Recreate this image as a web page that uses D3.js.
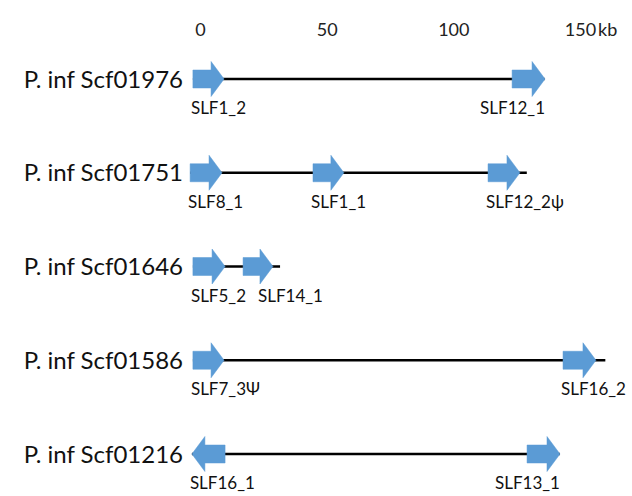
<!DOCTYPE html>
<html>
<head>
<meta charset="utf-8">
<script src="https://cdn.jsdelivr.net/npm/d3@7"></script>
<style>
  body { margin: 0; background: #fff; }
  svg { display: block; font-family: Lato, "Open Sans", sans-serif; }
</style>
</head>
<body>
<div id="chart"></div>
<script>
// Scaffolds with SLF genes, positions in kb.

const width = 632;
const height = 496;

const scaffolds = ["P. inf Scf01976", "P. inf Scf01751", "P. inf Scf01646", "P. inf Scf01586", "P. inf Scf01216"];
const scaffoldStart = [-2.8, -3.9, -2.8, -2.8, -3.2];
const scaffoldEnd = [136, 129, 31.6, 160, 142];

const geneScaffold = [0, 0, 1, 1, 1, 2, 2, 3, 3, 4, 4];
const geneNames = ["SLF1_2", "SLF12_1", "SLF8_1", "SLF1_1", "SLF12_2ψ", "SLF5_2", "SLF14_1", "SLF7_3Ψ", "SLF16_2", "SLF16_1", "SLF13_1"];
const geneStart = [-2.8, 123.2, -3.9, 44.6, 113.7, -2.8, 17, -2.8, 143.3, -3.2, 129.1];
const geneEnd = [9.5, 136.2, 8.7, 56.8, 126.3, 9.9, 28.8, 9.5, 156.3, 9.9, 142.1];
const geneStrand = [1, 1, 1, 1, 1, 1, 1, 1, 1, -1, 1];
// where the name sits under its arrow: from the left end, the middle, or up to the right end
const labelAlign = ["start", "end", "start", "start", "start", "start", "mid", "start", "start", "start", "end"];

const tickValues = [0, 50, 100, 150];

const x = d3.scaleLinear().domain([0, 150]).range([200, 580]);
const y = d3.scalePoint().domain(scaffolds).range([79, 454]);

const svg = d3.select("#chart")
    .append("svg")
    .attr("width", width)
    .attr("height", height);

// scale bar labels on top, no axis line
const axis = svg.append("g")
    .attr("transform", "translate(0,36)")
    .call(d3.axisTop(x).tickValues(tickValues).tickSize(0).tickPadding(0));
axis.select(".domain").remove();
axis.selectAll("text")
    .attr("font-family", "Lato, sans-serif")
    .attr("font-size", 18)
    .attr("fill", "#222");
svg.append("text")
    .attr("x", x(150) + 18)
    .attr("y", 36)
    .attr("font-size", 18)
    .attr("fill", "#222")
    .text("kb");

// scaffold rows
const rows = svg.append("g")
    .selectAll("g")
    .data(scaffolds)
    .join("g");

rows.append("text")
    .attr("x", 183)
    .attr("y", d => y(d))
    .attr("dy", "0.36em")
    .attr("text-anchor", "end")
    .attr("font-size", 24)
    .attr("fill", "#111")
    .text(d => d);

rows.append("line")
    .attr("x1", (d, i) => x(scaffoldStart[i]))
    .attr("x2", (d, i) => x(scaffoldEnd[i]))
    .attr("y1", d => y(d))
    .attr("y2", d => y(d))
    .attr("stroke", "#000")
    .attr("stroke-width", 2.5);

// gene arrows
function arrow(i) {
  const cy = y(scaffolds[geneScaffold[i]]);
  let a = x(geneStart[i]), b = x(geneEnd[i]);
  const head = 13, body = 9, wing = 17.5;
  if (geneStrand[i] < 0) [a, b] = [b, a];
  const s = geneStrand[i];
  const p = d3.path();
  p.moveTo(a, cy - body);
  p.lineTo(b - s * head, cy - body);
  p.lineTo(b - s * head, cy - wing);
  p.lineTo(b, cy);
  p.lineTo(b - s * head, cy + wing);
  p.lineTo(b - s * head, cy + body);
  p.lineTo(a, cy + body);
  p.closePath();
  return p.toString();
}

const genes = d3.range(geneNames.length);

svg.append("g")
    .selectAll("path")
    .data(genes)
    .join("path")
    .attr("d", arrow)
    .attr("fill", "#5b9bd5")
    .attr("stroke", "#5b9bd5")
    .attr("stroke-width", 0.5);

function labelX(i) {
  const lo = x(Math.min(geneStart[i], geneEnd[i]));
  const hi = x(Math.max(geneStart[i], geneEnd[i]));
  if (labelAlign[i] === "end") return hi;
  if (labelAlign[i] === "mid") return (lo + hi) / 2;
  return lo - 2;
}

svg.append("g")
    .selectAll("text")
    .data(genes)
    .join("text")
    .attr("x", labelX)
    .attr("y", i => y(scaffolds[geneScaffold[i]]) + 29)
    .attr("dy", "0.36em")
    .attr("text-anchor", i => labelAlign[i] === "end" ? "end" : "start")
    .attr("font-size", 17)
    .attr("fill", "#111")
    .text(i => geneNames[i]);
</script>
</body>
</html>
